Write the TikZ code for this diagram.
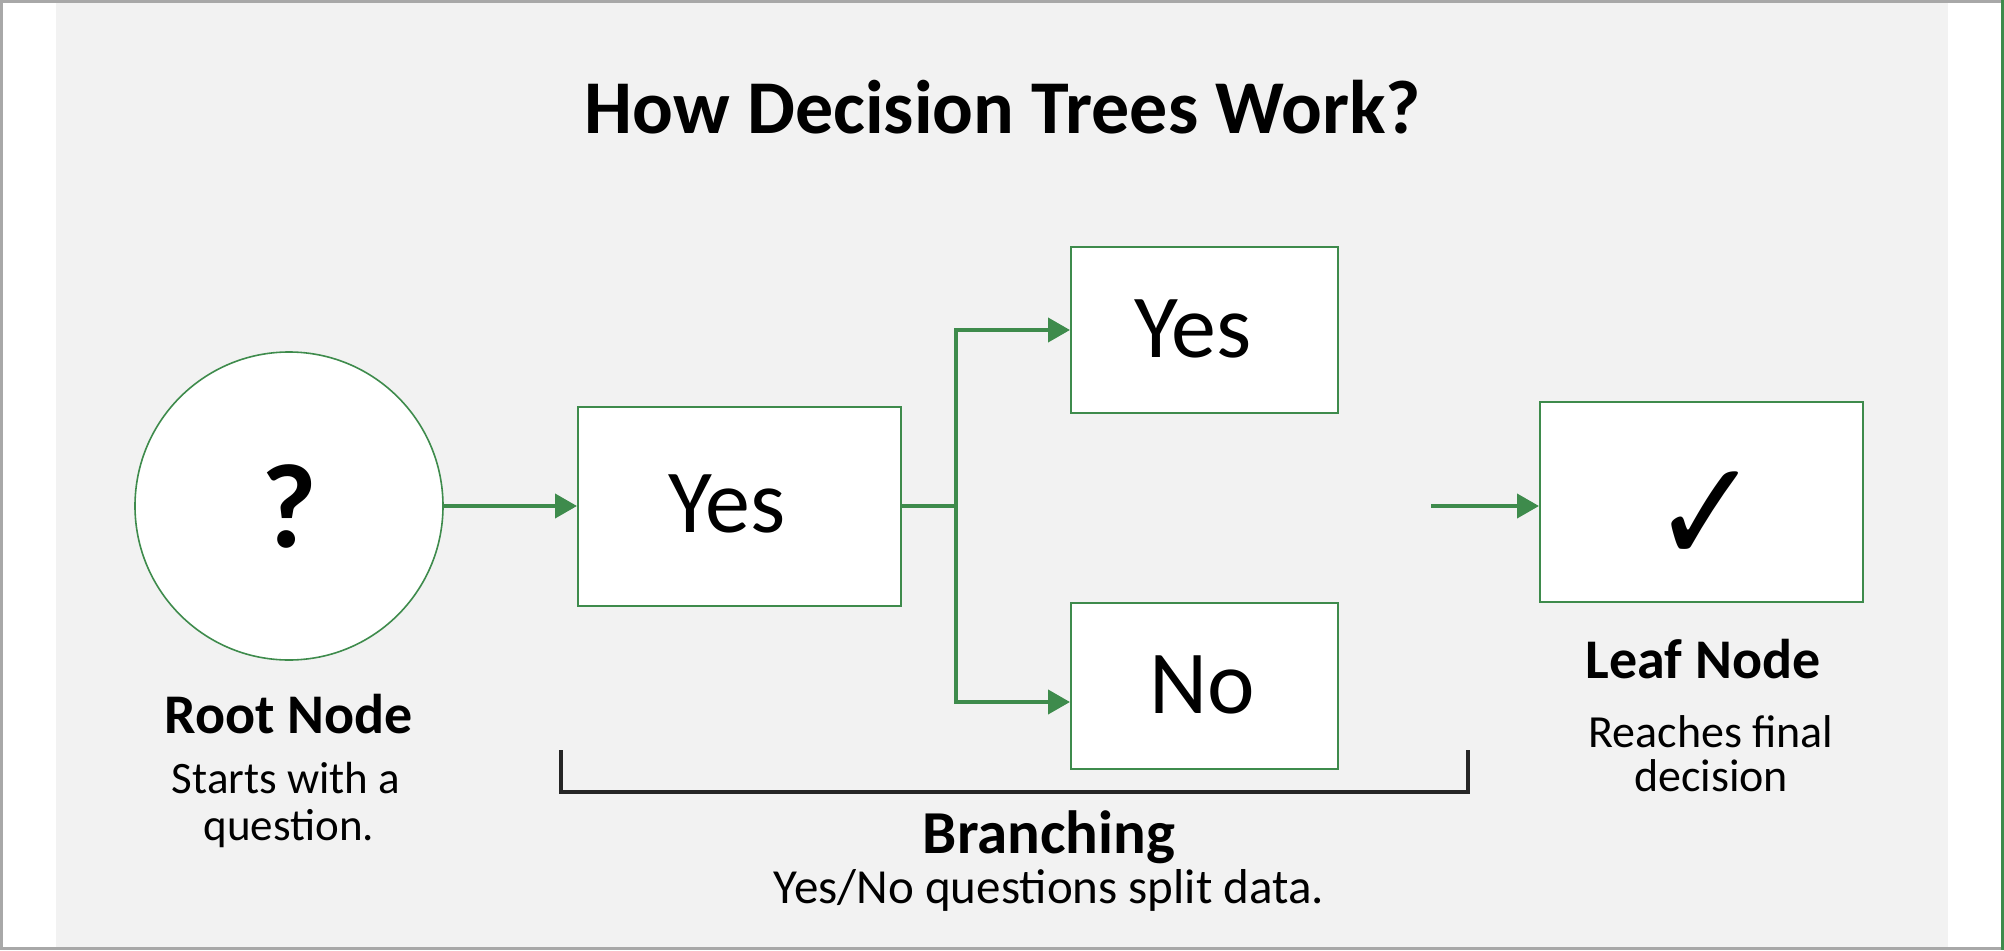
\documentclass[tikz,border=0pt]{standalone}
\usepackage{fontspec}
\setmainfont{Carlito}
\newfontfamily\symfont{DejaVu Sans}
\usetikzlibrary{arrows.meta}
\definecolor{bg}{HTML}{F2F2F2}
\definecolor{grn}{HTML}{3E8B4C}
\definecolor{frame}{HTML}{A8A8A8}
\tikzset{
  box/.style={draw=grn, fill=white, line width=2pt, inner sep=0pt},
  conn/.style={draw=grn, line width=4pt},
  arr/.style={conn, -{Triangle[length=22pt,width=24pt]}},
  head/.style={font=\fontsize{56}{62}\selectfont\bfseries, inner sep=0pt, anchor=base},
  sub/.style={font=\fontsize{45}{50}\selectfont, inner sep=0pt, align=center, anchor=base},
  big/.style={font=\fontsize{90}{96}\selectfont, inner sep=0pt, anchor=base},
}
\begin{document}
\begin{tikzpicture}[x=1pt,y=-1pt]
\useasboundingbox (0,0) rectangle (2004,950);
\fill[white] (0,0) rectangle (2004,950);
\fill[bg] (56,3) rectangle (1948,947);
\draw[frame, line width=3pt] (1.5,1.5) rectangle (2002.5,948.5);
\draw[grn, line width=3pt] (2002.5,0) -- (2002.5,950);

% title
\node[font=\fontsize{76}{84}\selectfont\bfseries, inner sep=0pt, anchor=base] (title) at (1003,133) {How Decision Trees Work?};

% nodes
\node[circle, draw=grn, fill=white, line width=1.6pt, minimum size=308pt, inner sep=0pt] (root) at (289,506) {};
\node[font=\fontsize{120}{128}\selectfont\bfseries, inner sep=0pt, anchor=base] (qm) at (289,547) {?};
\node[box, minimum width=323pt, minimum height=199pt] (b1) at (739.5,506) {};
\node[box, minimum width=267pt, minimum height=166pt] (yes) at (1204.5,330) {};
\node[box, minimum width=267pt, minimum height=166pt] (no) at (1204.5,686) {};
\node[box, minimum width=323pt, minimum height=200pt] (leaf) at (1701.5,502) {};
\node[big] (b1t) at (727,532) {Yes};
\node[big] (yest) at (1193,357) {Yes};
\node[big] (not) at (1202,713) {No};
\node[font=\symfont\fontsize{112}{120}\selectfont, inner sep=0pt] (chk) at (1706,518) {\scalebox{1.15}[1.3]{✓}};

% connectors
\draw[arr] (root) -- (b1);
\coordinate (j) at (956,506);
\draw[conn] (b1.east) -- (j);
\draw[arr] (j) |- (yes.west);
\draw[arr] (j) |- ([yshift=-16pt]no.west);
\coordinate (ls) at (1431,506);
\draw[arr] (ls) -- (ls -| leaf.west);

% bracket
\draw[black!85, line width=4pt] (561,750) -- (561,792) -- (1468,792) -- (1468,750);

% labels
\node[head] (rootl) at (289,733) {Root Node};
\node[sub] (roots) at (286,793) {Starts with a};
\node[sub] (roots2) at (289,840) {question.};
\node[head] (leafl) at (1703,678) {Leaf Node};
\node[sub, font=\fontsize{46}{50}\selectfont] (leafs) at (1711,747) {Reaches final};
\node[sub, font=\fontsize{46}{50}\selectfont] (leafs2) at (1711,791) {decision};
\node[head, font=\fontsize{61}{66}\selectfont\bfseries] (brl) at (1049,853) {Branching};
\node[sub, font=\fontsize{49}{54}\selectfont] (brs) at (1049,903) {Yes/No questions split data.};
\end{tikzpicture}
\end{document}
